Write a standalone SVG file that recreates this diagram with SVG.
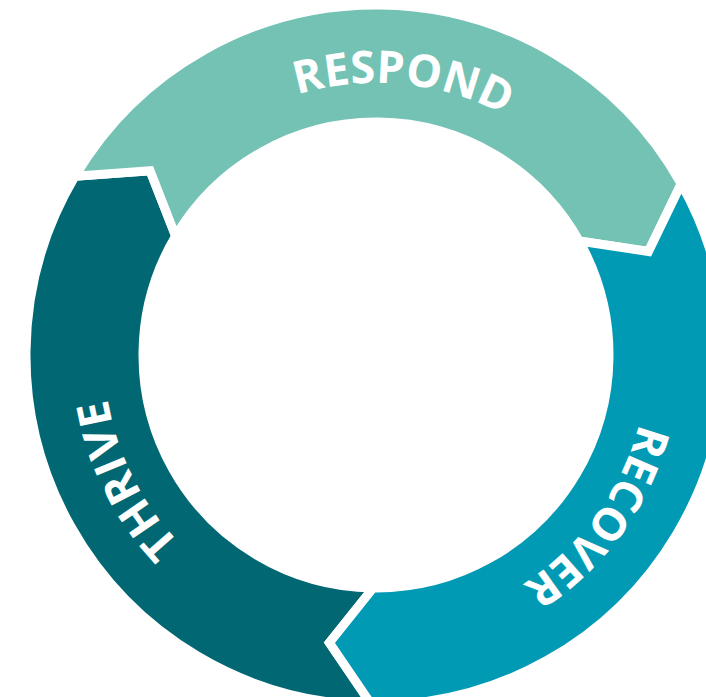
<svg xmlns="http://www.w3.org/2000/svg" width="706" height="697" viewBox="0 0 706 697">
  <style>
    .seg { stroke: #ffffff; stroke-width: 9; stroke-linejoin: miter; }
    .lbl { fill: #ffffff; font-family: "Open Sans", "DejaVu Sans", sans-serif; font-weight: 700; font-size: 45px; }
  </style>
  <defs>
    <path id="arcRespond" d="M154.0,197.8 A272,272 0 0 1 623.1,241.3"/>
    <path id="arcRecover" d="M624.5,244.4 A272,272 0 0 1 347.6,625.5"/>
    <path id="arcThrive" d="M357.0,626.3 A272,272 0 0 1 150.5,202.9"/>
  </defs>
  <rect width="706" height="697" fill="#ffffff"/>
  <g id="connectors"></g>
  <g id="thrive">
    <path class="seg" fill="#006773" d="M371.72,704.98 L329.39,642.75 L373.15,587.98 A233,233 0 0 1 175.65,236.04 L150.10,170.76 L75.04,176.31 A350,350 0 0 0 371.72,704.98 Z"/>
    <text class="lbl" letter-spacing="1"><textPath href="#arcThrive" startOffset="49.6%" text-anchor="middle">THRIVE</textPath></text>
  </g>
  <g id="respond">
    <path class="seg" fill="#73C2B4" d="M75.04,176.31 L150.10,170.76 L175.65,236.04 A233,233 0 0 1 579.19,240.97 L648.50,251.49 L681.22,183.72 A350,350 0 0 0 75.04,176.31 Z"/>
    <text class="lbl"><textPath href="#arcRespond" startOffset="50.3%" text-anchor="middle">RESPOND</textPath></text>
  </g>
  <g id="recover">
    <path class="seg" fill="#009AB4" d="M681.22,183.72 L648.50,251.49 L579.19,240.97 A233,233 0 0 1 373.15,587.98 L329.39,642.75 L371.72,704.98 A350,350 0 0 0 681.22,183.72 Z"/>
    <text class="lbl"><textPath href="#arcRecover" startOffset="50%" text-anchor="middle">RECOVER</textPath></text>
  </g>
</svg>
